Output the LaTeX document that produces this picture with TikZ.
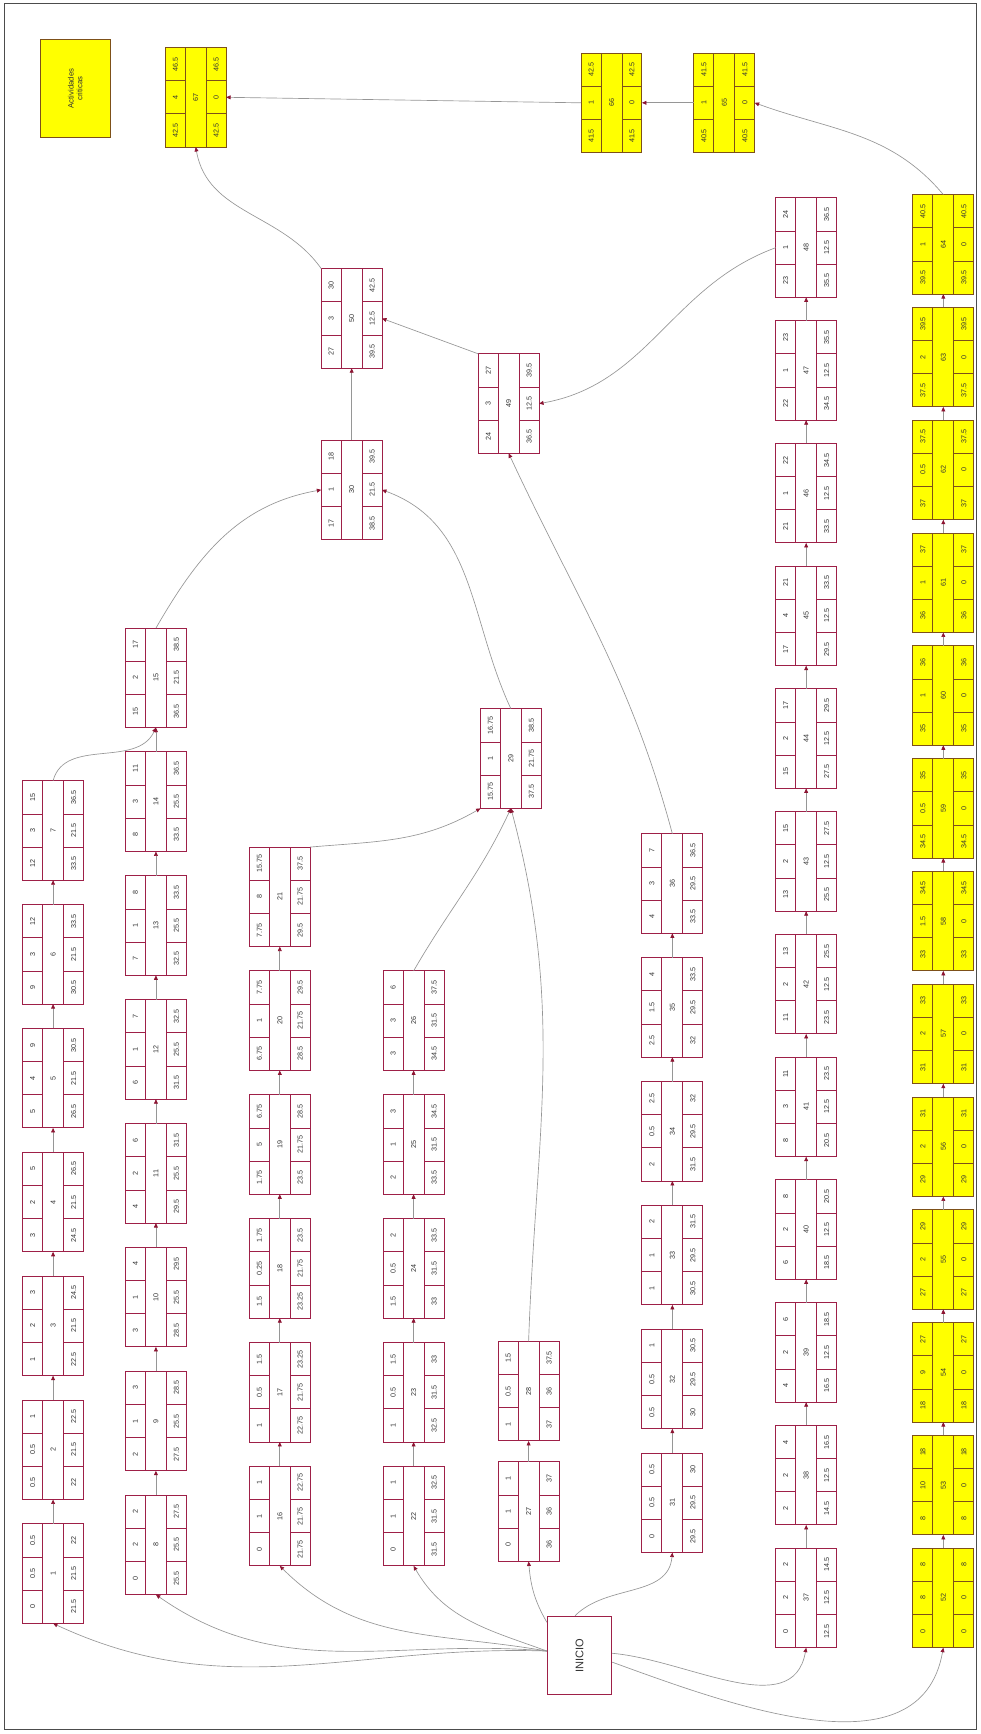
\documentclass[tikz,border=0pt]{standalone}
\usepackage{fontspec}
\setmainfont{Liberation Sans}
\usetikzlibrary{arrows.meta}
\definecolor{actred}{RGB}{158,32,72}
\definecolor{critfill}{RGB}{255,255,0}
\definecolor{critdraw}{RGB}{125,80,25}
\definecolor{linkgray}{RGB}{150,150,150}
\definecolor{tipred}{RGB}{140,20,50}
\tikzset{
  actbox/.style={draw=actred, fill=white, line width=0.9pt, minimum width=55pt, minimum height=90pt, inner sep=0pt, outer sep=0pt},
  actsep/.style={draw=actred, line width=0.7pt},
  val/.style={rotate=90, inner sep=0pt, font=\fontsize{6.5}{7.5}\selectfont, text=black!80},
  link/.style={draw=linkgray, line width=0.6pt, -{Triangle[length=4pt,width=3.5pt,color=tipred]}}
}
% 活动框: 编号, x, y, ES, D, EF, LS, H, LF
\newcommand{\act}[9]{%
  \node[actbox] (a#1) at (#2,{1568-#3}) {};
  \draw[actsep] ([xshift=18pt]a#1.north west) -- ([xshift=18pt]a#1.south west)
    ([xshift=-18pt]a#1.north east) -- ([xshift=-18pt]a#1.south east)
    ([yshift=30pt]a#1.south west) -- ++(18pt,0) ([yshift=-30pt]a#1.north west) -- ++(18pt,0)
    ([yshift=30pt]a#1.south east) -- ++(-18pt,0) ([yshift=-30pt]a#1.north east) -- ++(-18pt,0);
  \node[val] (a#1n) at (a#1.center) {#1};
  \node[val] (a#1es) at ([xshift=9pt,yshift=15pt]a#1.south west) {#4};
  \node[val] (a#1d) at ([xshift=9pt]a#1.west) {#5};
  \node[val] (a#1ef) at ([xshift=9pt,yshift=-15pt]a#1.north west) {#6};
  \node[val] (a#1ls) at ([xshift=-9pt,yshift=15pt]a#1.south east) {#7};
  \node[val] (a#1h) at ([xshift=-9pt]a#1.east) {#8};
  \node[val] (a#1lf) at ([xshift=-9pt,yshift=-15pt]a#1.north east) {#9};
}
\begin{document}
\begin{tikzpicture}[x=1pt,y=1pt]
\useasboundingbox (0,0) rectangle (887,1568);
\draw[black!70, line width=1pt] (4,4) rectangle (883,1565);
% 图例
\node[draw=critdraw, fill=critfill, line width=0.9pt, minimum width=63pt, minimum height=88pt] (legend) at (68,{1568-80}) {};
\node[rotate=90, align=center, font=\fontsize{7}{8}\selectfont, text=black!80] (legtxt) at (legend) {Actividades\\criticas};
% 起点
\node[draw=actred, line width=0.9pt, minimum width=58pt, minimum height=71pt] (ini) at (524,{1568-1497}) {};
\node[rotate=90, font=\fontsize{10}{12}\selectfont, text=black!80] (initxt) at (ini) {INICIO};
% 第一列
\act{1}{48}{1423}{0}{0.5}{0.5}{21.5}{21.5}{22}
\act{2}{48}{1311}{0.5}{0.5}{1}{22}{21.5}{22.5}
\act{3}{48}{1199}{1}{2}{3}{22.5}{21.5}{24.5}
\act{4}{48}{1087}{3}{2}{5}{24.5}{21.5}{26.5}
\act{5}{48}{975}{5}{4}{9}{26.5}{21.5}{30.5}
\act{6}{48}{863}{9}{3}{12}{30.5}{21.5}{33.5}
\act{7}{48}{751}{12}{3}{15}{33.5}{21.5}{36.5}
% 第二列
\act{8}{141}{1397}{0}{2}{2}{25.5}{25.5}{27.5}
\act{9}{141}{1285}{2}{1}{3}{27.5}{25.5}{28.5}
\act{10}{141}{1173}{3}{1}{4}{28.5}{25.5}{29.5}
\act{11}{141}{1061}{4}{2}{6}{29.5}{25.5}{31.5}
\act{12}{141}{949}{6}{1}{7}{31.5}{25.5}{32.5}
\act{13}{141}{837}{7}{1}{8}{32.5}{25.5}{33.5}
\act{14}{141}{725}{8}{3}{11}{33.5}{25.5}{36.5}
\act{15}{141}{613}{15}{2}{17}{36.5}{21.5}{38.5}
% 第三列
\act{16}{253}{1371}{0}{1}{1}{21.75}{21.75}{22.75}
\act{17}{253}{1259}{1}{0.5}{1.5}{22.75}{21.75}{23.25}
\act{18}{253}{1147}{1.5}{0.25}{1.75}{23.25}{21.75}{23.5}
\act{19}{253}{1035}{1.75}{5}{6.75}{23.5}{21.75}{28.5}
\act{20}{253}{923}{6.75}{1}{7.75}{28.5}{21.75}{29.5}
\act{21}{253}{811}{7.75}{8}{15.75}{29.5}{21.75}{37.5}
% 第四列
\act{22}{374}{1371}{0}{1}{1}{31.5}{31.5}{32.5}
\act{23}{374}{1259}{1}{0.5}{1.5}{32.5}{31.5}{33}
\act{24}{374}{1147}{1.5}{0.5}{2}{33}{31.5}{33.5}
\act{25}{374}{1035}{2}{1}{3}{33.5}{31.5}{34.5}
\act{26}{374}{923}{3}{3}{6}{34.5}{31.5}{37.5}
% 第五列
\act{27}{478}{1367}{0}{1}{1}{36}{36}{37}
\act{28}{478}{1258}{1}{0.5}{1.5}{37}{36}{37.5}
\act{29}{462}{686}{15.75}{1}{16.75}{37.5}{21.75}{38.5}
\act{30}{318}{443}{17}{1}{18}{38.5}{21.5}{39.5}
% 第六列
\act{31}{608}{1359}{0}{0.5}{0.5}{29.5}{29.5}{30}
\act{32}{608}{1247}{0.5}{0.5}{1}{30}{29.5}{30.5}
\act{33}{608}{1135}{1}{1}{2}{30.5}{29.5}{31.5}
\act{34}{608}{1023}{2}{0.5}{2.5}{31.5}{29.5}{32}
\act{35}{608}{911}{2.5}{1.5}{4}{32}{29.5}{33.5}
\act{36}{608}{799}{4}{3}{7}{33.5}{29.5}{36.5}
% 第七列
\act{37}{729}{1445}{0}{2}{2}{12.5}{12.5}{14.5}
\act{38}{729}{1334}{2}{2}{4}{14.5}{12.5}{16.5}
\act{39}{729}{1223}{4}{2}{6}{16.5}{12.5}{18.5}
\act{40}{729}{1112}{6}{2}{8}{18.5}{12.5}{20.5}
\act{41}{729}{1001}{8}{3}{11}{20.5}{12.5}{23.5}
\act{42}{729}{890}{11}{2}{13}{23.5}{12.5}{25.5}
\act{43}{729}{779}{13}{2}{15}{25.5}{12.5}{27.5}
\act{44}{729}{668}{15}{2}{17}{27.5}{12.5}{29.5}
\act{45}{729}{557}{17}{4}{21}{29.5}{12.5}{33.5}
\act{46}{729}{446}{21}{1}{22}{33.5}{12.5}{34.5}
\act{47}{729}{335}{22}{1}{23}{34.5}{12.5}{35.5}
\act{48}{729}{224}{23}{1}{24}{35.5}{12.5}{36.5}
\act{49}{460}{365}{24}{3}{27}{36.5}{12.5}{39.5}
\act{50}{318}{288}{27}{3}{30}{39.5}{12.5}{42.5}
% 关键活动
\begin{scope}[actbox/.append style={fill=critfill, draw=critdraw}, actsep/.append style={draw=critdraw}]
\act{52}{853}{1445}{0}{8}{8}{0}{0}{8}
\act{53}{853}{1343}{8}{10}{18}{8}{0}{18}
\act{54}{853}{1241}{18}{9}{27}{18}{0}{27}
\act{55}{853}{1139}{27}{2}{29}{27}{0}{29}
\act{56}{853}{1037}{29}{2}{31}{29}{0}{31}
\act{57}{853}{935}{31}{2}{33}{31}{0}{33}
\act{58}{853}{833}{33}{1.5}{34.5}{33}{0}{34.5}
\act{59}{853}{731}{34.5}{0.5}{35}{34.5}{0}{35}
\act{60}{853}{629}{35}{1}{36}{35}{0}{36}
\act{61}{853}{527}{36}{1}{37}{36}{0}{37}
\act{62}{853}{425}{37}{0.5}{37.5}{37}{0}{37.5}
\act{63}{853}{323}{37.5}{2}{39.5}{37.5}{0}{39.5}
\act{64}{853}{221}{39.5}{1}{40.5}{39.5}{0}{40.5}
\act{65}{655}{93}{40.5}{1}{41.5}{40.5}{0}{41.5}
\act{66}{553}{93}{41.5}{1}{42.5}{41.5}{0}{42.5}
\act{67}{177}{88}{42.5}{4}{46.5}{42.5}{0}{46.5}
\end{scope}
% 链内箭头
\foreach \s/\e in {1/6, 8/14, 16/20, 22/25, 27/27, 31/35, 37/47, 52/63}
  \foreach \i in {\s,...,\e} {
    \pgfmathtruncatemacro\j{\i+1}
    \draw[link] (a\i.north) -- (a\j.south);
  }
% 起点连线
\draw[link] ([yshift=4pt]ini.west) to[out=178,in=-25] (a1.south);
\draw[link] ([yshift=4pt]ini.west) to[out=175,in=-35] (a8.south);
\draw[link] ([yshift=4pt]ini.west) to[out=170,in=-45] (a16.south);
\draw[link] ([yshift=4pt]ini.west) to[out=160,in=-60] (a22.south);
\draw[link] ([yshift=-6pt]ini.north west) to[out=120,in=-85] (a27.south);
\draw[link] ([xshift=-4pt]ini.north) to[out=45,in=-95] (a31.south);
\draw[link] ([yshift=2pt]ini.east) to[out=-5,in=-100] (a37.south);
\draw[link] ([yshift=-6pt]ini.east) to[out=-20,in=-100] (a52.south);
% 汇合
\draw[link] (a7.north) to[out=75,in=-115] (a15.south);
\draw[link] (a15.north) to[out=60,in=190] (a30.west);
\draw[link] (a21.north east) to[out=5,in=-150] (a29.south west);
\draw[link] (a26.north) to[out=60,in=-115] (a29.south);
\draw[link] (a28.north) to[out=88,in=-75] (a29.south);
\draw[link] (a29.north) to[out=115,in=-20] (a30.east);
\draw[link] (a30.north) -- (a50.south);
\draw[link] (a36.north) to[out=105,in=-65] (a49.south);
\draw[link] (a48.west) to[out=200,in=10] (a49.east);
\draw[link] (a49.north west) -- (a50.east);
\draw[link] (a50.north west) to[out=125,in=-80] (a67.south);
\draw[link] (a64.north) to[out=130,in=-20] (a65.east);
\draw[link] (a65.west) -- (a66.east);
\draw[link] (a66.west) -- (a67.east);
\end{tikzpicture}
\end{document}
